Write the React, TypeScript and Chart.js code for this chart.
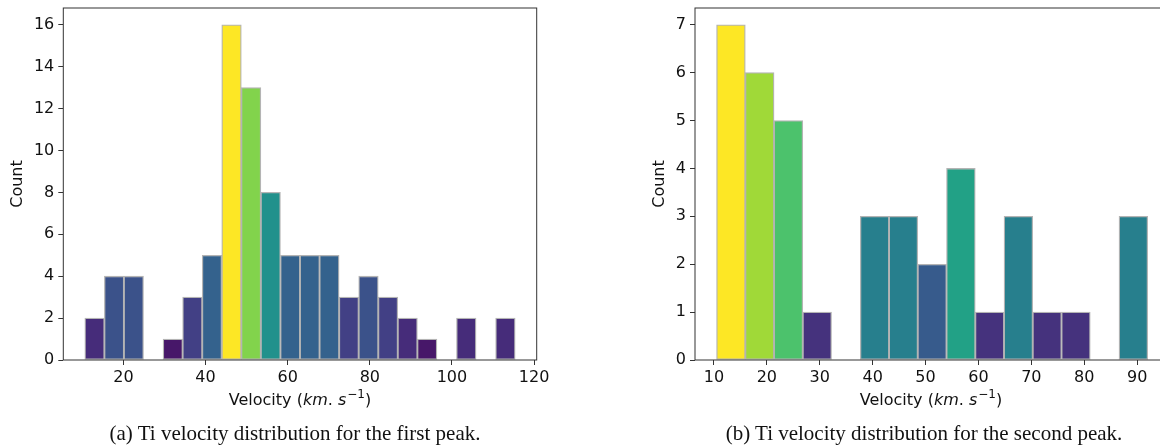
import React, { useEffect, useRef } from "react";
import { Chart, registerables } from "chart.js";
Chart.register(...registerables);

// ---- Data: histogram (a) first peak ----
const binsAMin = 10.6;
const binsAMax = 115.4;
const countsA = [2, 4, 4, 0, 1, 3, 5, 16, 13, 8, 5, 5, 5, 3, 4, 3, 2, 1, 0, 2, 0, 2];
const xTicksA = [20, 40, 60, 80, 100, 120];
const yTicksA = [0, 2, 4, 6, 8, 10, 12, 14, 16];
const captionA = "(a) Ti velocity distribution for the first peak.";

// ---- Data: histogram (b) second peak ----
const binsBMin = 10.5;
const binsBMax = 92.0;
const countsB = [7, 6, 5, 1, 0, 3, 3, 2, 4, 1, 3, 1, 1, 0, 3];
const xTicksB = [10, 20, 30, 40, 50, 60, 70, 80, 90];
const yTicksB = [0, 1, 2, 3, 4, 5, 6, 7];
const captionB = "(b) Ti velocity distribution for the second peak.";

const VIRIDIS = [
  "#440154", "#482475", "#414487", "#355f8d", "#2a788e", "#21918c",
  "#22a884", "#44bf70", "#7ad151", "#bddf26", "#fde725",
];

function hexToRgb(h: string) {
  return [parseInt(h.slice(1, 3), 16), parseInt(h.slice(3, 5), 16), parseInt(h.slice(5, 7), 16)];
}
function viridis(t: number) {
  const x = Math.max(0, Math.min(1, t)) * (VIRIDIS.length - 1);
  const i = Math.min(VIRIDIS.length - 2, Math.floor(x));
  const f = x - i;
  const a = hexToRgb(VIRIDIS[i]);
  const b = hexToRgb(VIRIDIS[i + 1]);
  const c = a.map((v, k) => Math.round(v + (b[k] - v) * f));
  return `rgb(${c[0]},${c[1]},${c[2]})`;
}

const framePlugin = {
  id: "frame",
  afterDraw(chart: any) {
    const { ctx, chartArea: a } = chart;
    ctx.save();
    ctx.strokeStyle = "#333";
    ctx.lineWidth = 1;
    ctx.strokeRect(a.left, a.top, a.right - a.left, a.bottom - a.top);
    ctx.restore();
  },
};

function zeroPad(ax: any) {
  ax.paddingTop = 0;
  ax.paddingBottom = 0;
  ax.paddingLeft = 0;
  ax.paddingRight = 0;
}

type HistProps = {
  counts: number[];
  binMin: number;
  binMax: number;
  xTicks: number[];
  yTicks: number[];
  canvasLeft: number;
  canvasWidth: number;
  yAxisWidth: number;
  rightPad: number;
  titlePad: number;
};

function Histogram(p: HistProps) {
  const ref = useRef<HTMLCanvasElement>(null);
  useEffect(() => {
    const n = p.counts.length;
    const w = (p.binMax - p.binMin) / n;
    const span = p.binMax - p.binMin;
    const xmin = p.binMin - 0.05 * span;
    const xmax = p.binMax + 0.05 * span;
    const maxC = Math.max(...p.counts);
    const data = p.counts.map((c, i) => ({ x: p.binMin + (i + 0.5) * w, y: c }));
    const colors = p.counts.map((c) => viridis(c / maxC));
    const tickFont = { family: "DejaVu Sans", size: 16 };
    const chart = new Chart(ref.current!, {
      type: "bar",
      data: {
        datasets: [
          {
            data: data as any,
            backgroundColor: colors,
            borderColor: "#b4b4b4",
            borderWidth: 1.3,
            borderSkipped: false,
            barPercentage: 1,
            categoryPercentage: 1,
          },
        ],
      },
      options: {
        animation: false,
        responsive: false,
        devicePixelRatio: 1,
        layout: {
          autoPadding: false,
          padding: { left: 0, top: 8, right: p.rightPad, bottom: 57 },
        },
        plugins: { legend: { display: false }, tooltip: { enabled: false } },
        scales: {
          x: {
            type: "linear",
            min: xmin,
            max: xmax,
            offset: false,
            afterFit: (ax: any) => { ax.height = 30; zeroPad(ax); },
            afterBuildTicks: (ax: any) => { ax.ticks = p.xTicks.map((v) => ({ value: v })); },
            grid: { display: true, drawOnChartArea: false, drawTicks: true, tickLength: 5, color: "#333", offset: false },
            border: { display: false },
            ticks: { font: tickFont, color: "#111", padding: 3, maxRotation: 0, autoSkip: false },
          },
          y: {
            type: "linear",
            min: 0,
            max: maxC * 1.05,
            afterFit: (ax: any) => { ax.width = p.yAxisWidth; zeroPad(ax); },
            afterBuildTicks: (ax: any) => { ax.ticks = p.yTicks.map((v) => ({ value: v })); },
            grid: { display: true, drawOnChartArea: false, drawTicks: true, tickLength: 5, color: "#333" },
            border: { display: false },
            ticks: { font: tickFont, color: "#111", padding: 4, autoSkip: false },
            title: {
              display: true,
              text: "Count",
              font: { family: "DejaVu Sans", size: 16 },
              color: "#111",
              padding: { top: p.titlePad, bottom: 0 },
            },
          },
        },
      },
      plugins: [framePlugin],
    });
    return () => chart.destroy();
  }, []);
  return (
    <canvas
      ref={ref}
      width={p.canvasWidth}
      height={447}
      style={{ position: "absolute", left: p.canvasLeft, top: 0, width: p.canvasWidth, height: 447 }}
    />
  );
}

const xTitleStyle: React.CSSProperties = {
  position: "absolute",
  top: 390,
  fontFamily: "DejaVu Sans",
  fontSize: 16,
  color: "#111",
  whiteSpace: "nowrap",
  transform: "translateX(-50%)",
  lineHeight: "20px",
};
const captionStyle: React.CSSProperties = {
  position: "absolute",
  top: 421,
  fontFamily: "Liberation Serif",
  fontSize: 21,
  color: "#111",
  whiteSpace: "nowrap",
  transform: "translateX(-50%)",
  lineHeight: "24px",
};

function XTitle({ x }: { x: number }) {
  return (
    <div style={{ ...xTitleStyle, left: x }}>
      Velocity (<i>km</i>.&nbsp;<i>s</i>
      <sup style={{ fontSize: 12, verticalAlign: "7px", lineHeight: 0, marginLeft: 1 }}>−1</sup>)
    </div>
  );
}

export default function App() {
  return (
    <div style={{ position: "fixed", left: 0, top: 0, width: 1160, height: 447, overflow: "hidden", background: "#fff" }}>
      <Histogram
        counts={countsA}
        binMin={binsAMin}
        binMax={binsAMax}
        xTicks={xTicksA}
        yTicks={yTicksA}
        canvasLeft={0}
        canvasWidth={580}
        yAxisWidth={63.3}
        rightPad={43.3}
        titlePad={8}
      />
      <Histogram
        counts={countsB}
        binMin={binsBMin}
        binMax={binsBMax}
        xTicks={xTicksB}
        yTicks={yTicksB}
        canvasLeft={640}
        canvasWidth={580}
        yAxisWidth={55}
        rightPad={50.7}
        titlePad={10.5}
      />
      <XTitle x={300} />
      <XTitle x={931} />
      <div style={{ ...captionStyle, left: 295 }}>{captionA}</div>
      <div style={{ ...captionStyle, left: 924 }}>{captionB}</div>
    </div>
  );
}
